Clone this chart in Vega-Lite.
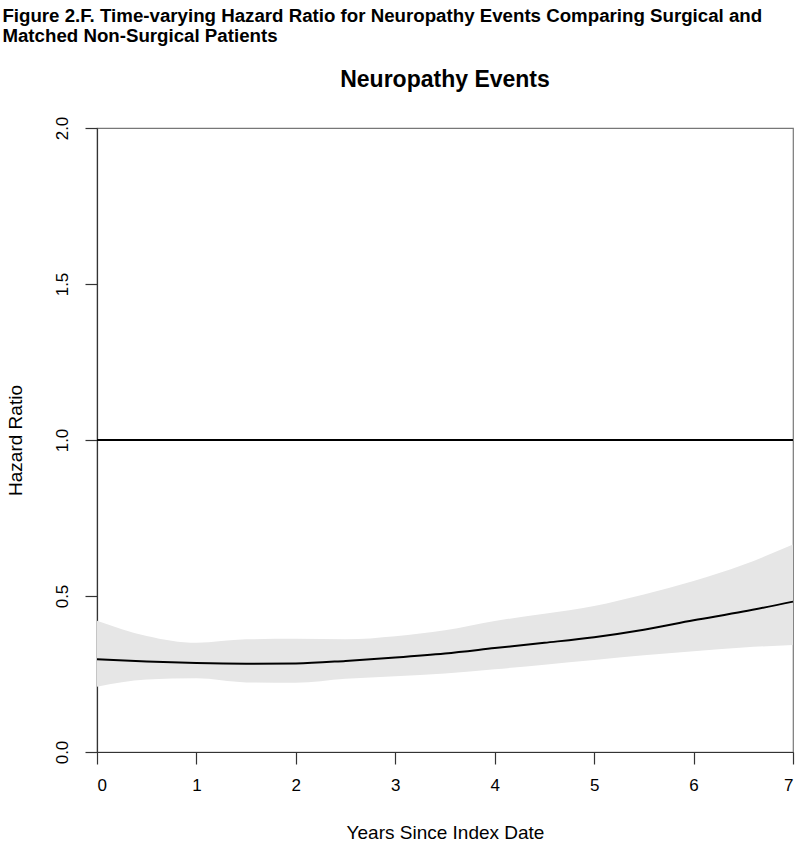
{
  "$schema": "https://vega.github.io/schema/vega-lite/v6.json",
  "background": "white",
  "padding": {"left": 2, "top": 6, "right": 3, "bottom": 3},
  "config": {
    "font": "Liberation Sans",
    "view": {"stroke": "#777777", "strokeWidth": 1.2},
    "axis": {
      "grid": false,
      "domainColor": "#333333",
      "tickColor": "#333333",
      "domainWidth": 1.2,
      "tickWidth": 1.2,
      "tickSize": 12,
      "labelFont": "Liberation Sans",
      "labelFontSize": 17,
      "labelColor": "black",
      "titleFont": "Liberation Sans",
      "titleFontSize": 19,
      "titleFontWeight": "normal",
      "titleColor": "black"
    }
  },
  "title": {
    "text": ["Figure 2.F. Time-varying Hazard Ratio for Neuropathy Events Comparing Surgical and", "Matched Non-Surgical Patients"],
    "anchor": "start",
    "frame": "bounds",
    "dx": -3,
    "font": "Liberation Sans",
    "fontSize": 18.7,
    "fontWeight": "bold",
    "color": "black",
    "lineHeight": 20,
    "offset": 23
  },
  "vconcat": [
    {
      "title": {
        "text": "Neuropathy Events",
        "anchor": "middle",
        "font": "Liberation Sans",
        "fontSize": 23,
        "fontWeight": "bold",
        "color": "black",
        "offset": 24
      },
      "width": 696,
      "height": 624,
      "data": {
        "values": [
          {"years": 0, "hr": 0.297, "lo": 0.209, "hi": 0.421},
          {"years": 0.5, "hr": 0.290, "lo": 0.232, "hi": 0.372},
          {"years": 1, "hr": 0.285, "lo": 0.236, "hi": 0.350},
          {"years": 1.5, "hr": 0.283, "lo": 0.223, "hi": 0.361},
          {"years": 2, "hr": 0.284, "lo": 0.222, "hi": 0.363},
          {"years": 2.5, "hr": 0.292, "lo": 0.235, "hi": 0.361},
          {"years": 3, "hr": 0.303, "lo": 0.243, "hi": 0.371},
          {"years": 3.5, "hr": 0.316, "lo": 0.252, "hi": 0.390},
          {"years": 4, "hr": 0.333, "lo": 0.265, "hi": 0.420},
          {"years": 4.5, "hr": 0.350, "lo": 0.280, "hi": 0.443},
          {"years": 5, "hr": 0.368, "lo": 0.295, "hi": 0.468},
          {"years": 5.5, "hr": 0.392, "lo": 0.310, "hi": 0.505},
          {"years": 6, "hr": 0.422, "lo": 0.323, "hi": 0.548},
          {"years": 6.5, "hr": 0.450, "lo": 0.335, "hi": 0.600},
          {"years": 7, "hr": 0.482, "lo": 0.343, "hi": 0.665}
        ]
      },
      "layer": [
        {
          "mark": {"type": "area", "color": "#e6e6e6", "interpolate": "monotone"},
          "encoding": {
            "x": {
              "field": "years", "type": "quantitative",
              "scale": {"domain": [0, 7], "nice": false, "zero": false},
              "axis": {"values": [0, 1, 2, 3, 4, 5, 6, 7], "title": "Years Since Index Date", "labelPadding": 13, "titlePadding": 30, "format": "d"}
            },
            "y": {
              "field": "lo", "type": "quantitative",
              "scale": {"domain": [0, 2], "nice": false},
              "axis": {"values": [0, 0.5, 1, 1.5, 2], "format": ".1f", "title": "Hazard Ratio", "labelAngle": -90, "labelPadding": 14, "titlePadding": 28}
            },
            "y2": {"field": "hi"}
          }
        },
        {
          "mark": {"type": "line", "color": "black", "strokeWidth": 2, "interpolate": "monotone"},
          "encoding": {
            "x": {"field": "years", "type": "quantitative"},
            "y": {"field": "hr", "type": "quantitative"}
          }
        },
        {
          "mark": {"type": "rule", "color": "black", "strokeWidth": 1},
          "encoding": {"y": {"datum": 1}}
        }
      ]
    }
  ]
}
